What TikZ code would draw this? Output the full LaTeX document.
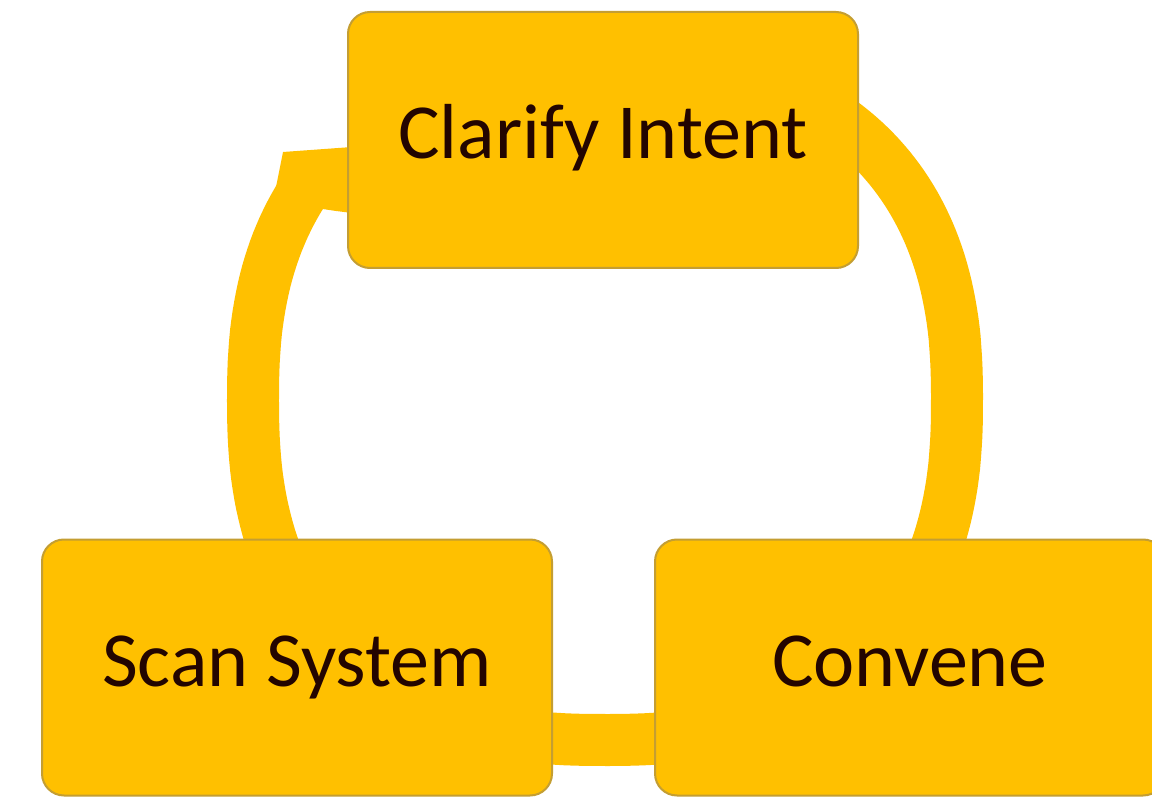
\documentclass[tikz,border=0pt]{standalone}
\usepackage{fontspec}
\setmainfont{Carlito}
\definecolor{gold}{RGB}{255,192,0}
\definecolor{goldedge}{RGB}{196,158,50}
\definecolor{ink}{RGB}{35,5,0}
\begin{document}
\begin{tikzpicture}[x=1pt,y=-1pt,
  stepbox/.style={draw=goldedge, line width=2pt, fill=gold, rounded corners=22pt,
    minimum width=510pt, minimum height=256pt, inner sep=0pt, text=ink,
    font=\fontsize{78}{90}\selectfont, text height=38pt, text depth=0pt, align=center},
  band/.style={draw=gold, line width=52pt, line cap=butt}]
\clip (0,0) rectangle (1152,799);
\fill[white] (0,0) rectangle (1152,799);
% cycle band (superellipse), from under Clarify Intent round to the arrow head
\draw[band] plot[domain=-60:216, samples=200, variable=\t]
  ({605+352*sign(cos(\t))*pow(abs(cos(\t)),0.8333)},
   {400+340*sign(sin(\t))*pow(abs(sin(\t)),0.8333)});
% arrow head pointing into Clarify Intent
\fill[gold] (275,192) -- (283,152) -- (352,147) -- (352,213) -- (336,211) -- (316,208) -- cycle;
% steps
\node[stepbox] (clarify) at (603,140) {Clarify Intent};
\node[stepbox] (scan) at (297,667.5) {Scan System};
\node[stepbox] (convene) at (910,667.5) {Convene};
\end{tikzpicture}
\end{document}
